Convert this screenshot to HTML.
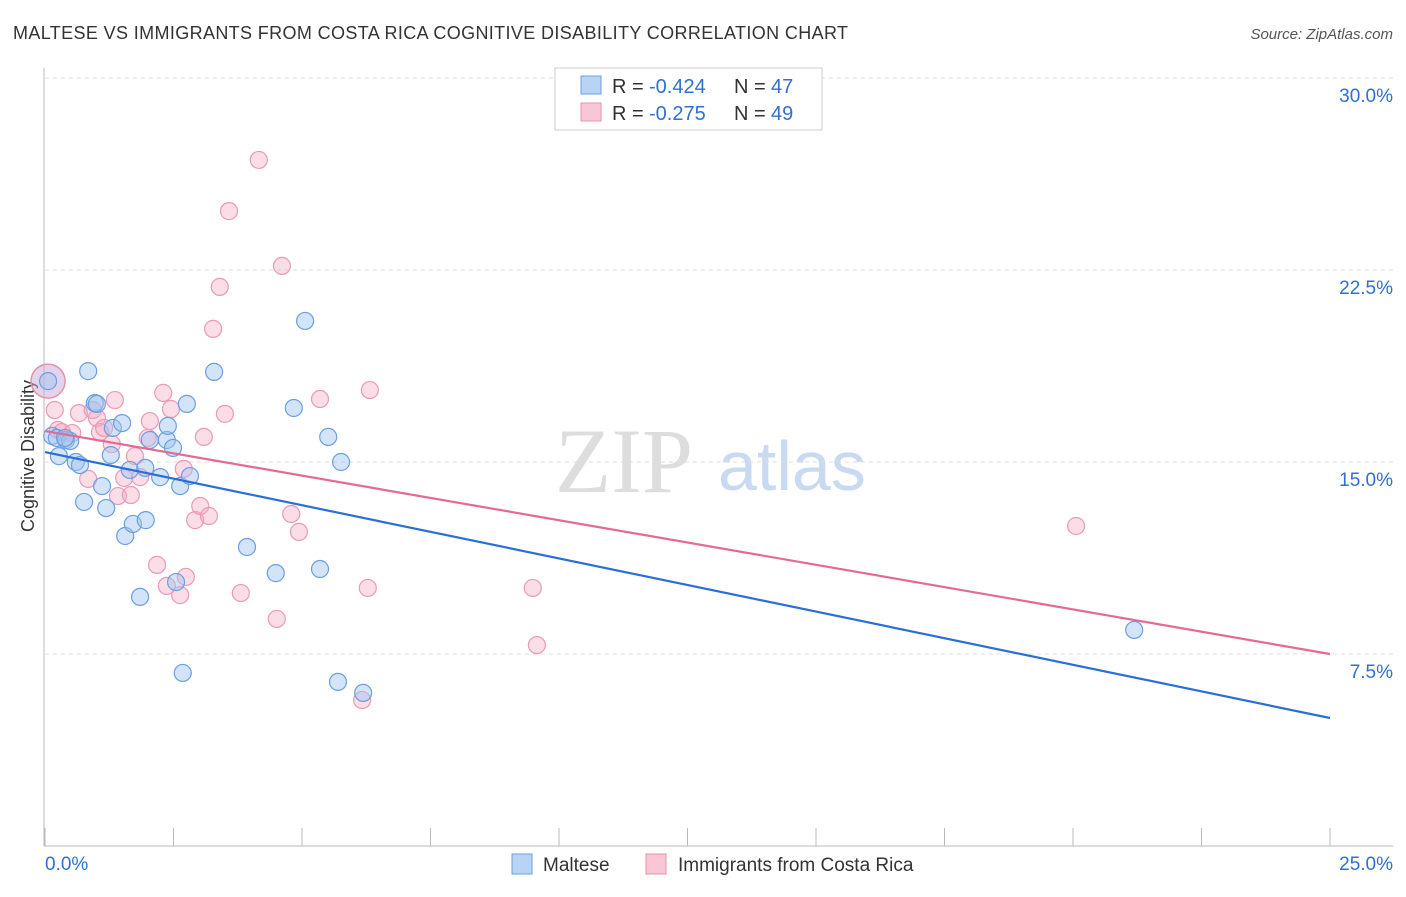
<!DOCTYPE html>
<html><head><meta charset="utf-8"><style>
body{margin:0;background:#fff;font-family:"Liberation Sans",sans-serif}
</style></head><body>
<svg id="c" width="1406" height="892" xmlns="http://www.w3.org/2000/svg">
<text x="13" y="39" font-size="18" fill="#333" textLength="835">MALTESE VS IMMIGRANTS FROM COSTA RICA COGNITIVE DISABILITY CORRELATION CHART</text>
<text x="1393" y="39" font-size="15" fill="#555" text-anchor="end" font-style="italic">Source: ZipAtlas.com</text>
<text x="34" y="456" font-size="18" fill="#333" text-anchor="middle" transform="rotate(-90 34 456)">Cognitive Disability</text>
<text x="555" y="492" font-size="92" fill="#ddd" font-family="Liberation Serif,serif">ZIP</text>
<text x="718" y="490" font-size="70" fill="#c8daf2">atlas</text>
<g id="grid"></g><g id="pts"></g><g id="lines"></g>
<rect x="555" y="68" width="267" height="62" fill="#fff" stroke="#ccc"/>
<rect x="581" y="76" width="20" height="18" fill="#b9d3f5" stroke="#6a9fe0"/>
<rect x="581" y="103" width="20" height="18" fill="#f8c6d4" stroke="#e890aa"/>
<g font-size="20" fill="#333">
<text x="612" y="93">R =</text><text x="649" y="93" fill="#3070d0">-0.424</text><text x="734" y="93">N =</text><text x="771" y="93" fill="#3070d0">47</text></g>
<g font-size="20" fill="#333">
<text x="612" y="120">R =</text><text x="649" y="120" fill="#3070d0">-0.275</text><text x="734" y="120">N =</text><text x="771" y="120" fill="#3070d0">49</text></g>
<rect x="512" y="854" width="20" height="20" fill="#b9d3f5" stroke="#6a9fe0"/>
<text x="543" y="871" font-size="19" fill="#333">Maltese</text>
<rect x="646" y="854" width="20" height="20" fill="#f8c6d4" stroke="#e890aa"/>
<text x="678" y="871" font-size="19" fill="#333">Immigrants from Costa Rica</text>
<text x="45" y="870" font-size="19" fill="#3070d0">0.0%</text>
<text x="1393" y="870" font-size="19" fill="#3070d0" text-anchor="end">25.0%</text>
</svg>
<script>
const yTicks=[30,22.5,15,7.5];
const yTickLabels=["30.0%","22.5%","15.0%","7.5%"];
const blueX=[0.84,0.14,0.23,0.27,0.41,0.49,0.60,0.68,0.76,0.97,1.01,1.11,1.19,1.28,1.32,1.50,1.56,1.65,1.71,1.85,1.95,1.96,2.24,2.37,2.39,2.49,2.55,2.63,2.68,2.76,2.82,3.29,3.93,4.49,4.84,5.06,5.35,5.51,5.70,5.76,6.19,21.19,0.06,0.39,2.04];
const blueY=[18.55,16.02,15.94,15.23,15.86,15.82,15.0,14.88,13.44,17.30,17.27,14.06,13.20,15.27,16.33,16.52,12.11,14.69,12.58,9.73,14.77,12.73,14.41,15.86,16.41,15.55,10.31,14.06,6.76,17.27,14.45,18.52,11.68,10.66,17.11,20.51,10.82,15.98,6.41,15.0,5.98,8.44,18.16,15.94,15.86];
const pinkX=[0.19,0.25,0.33,0.53,0.66,0.84,0.93,1.01,1.07,1.15,1.30,1.36,1.42,1.54,1.67,1.75,1.85,2.00,2.04,2.18,2.30,2.37,2.45,2.63,2.70,2.74,2.92,3.02,3.09,3.19,3.27,3.40,3.50,3.58,3.81,4.16,4.51,4.61,4.79,4.94,5.35,6.17,6.28,6.32,9.49,9.57,20.06];
const pinkY=[17.03,16.25,16.17,16.13,16.91,14.34,17.03,16.72,16.17,16.33,15.70,17.42,13.67,14.38,13.71,15.23,14.41,15.94,16.60,10.98,17.70,10.16,17.07,9.80,14.73,10.51,12.73,13.28,15.98,12.89,20.20,21.84,16.88,24.80,9.88,26.80,8.87,22.66,12.97,12.27,17.46,5.70,10.08,17.81,10.08,7.85,12.50];
const blueTrend=[15.39,5.0];
const pinkTrend=[16.21,7.5];
const X=v=>45+v/25*1285, Y=v=>846-v/7.5*192;
const NS="http://www.w3.org/2000/svg";
const mk=(p,t,a)=>{const e=document.createElementNS(NS,t);for(const k in a)e.setAttribute(k,a[k]);p.appendChild(e);return e;};
const g=document.getElementById('grid');
yTicks.forEach((t,i)=>{
 const l=mk(g,'line',{x1:45,x2:1393,y1:Y(t),y2:Y(t),stroke:'#ddd','stroke-dasharray':'4 4'});
 
 
 const tx=mk(g,'text',{x:1393,y:Y(t)+24,'font-size':19,fill:'#3070d0','text-anchor':'end'});
 tx.textContent=yTickLabels[i];
 
 
});
const ax=mk(g,'line',{x1:44,x2:44,y1:68,y2:846,stroke:'#bbb'});


const bx=mk(g,'line',{x1:44,x2:1393,y1:846,y2:846,stroke:'#bbb'});


for(let i=0;i<=10;i++){const t=mk(g,'line',{x1:X(i*2.5),x2:X(i*2.5),y1:828,y2:846,stroke:'#bbb'});
 
 }
const P=document.getElementById('pts');
const big=mk(P,'circle',{cx:X(0.06),cy:Y(18.16),r:17,fill:'rgba(200,170,215,0.5)',stroke:'#e890aa','stroke-width':1.5});


pinkX.forEach((x,i)=>{const c=mk(P,'circle',{cx:X(x),cy:Y(pinkY[i]),r:8.5,fill:'rgba(244,170,195,0.4)',stroke:'#ea9ab4','stroke-width':1.2});
 
 });
blueX.forEach((x,i)=>{const c=mk(P,'circle',{cx:X(x),cy:Y(blueY[i]),r:8.5,fill:'rgba(160,195,240,0.45)',stroke:'#6a9fe0','stroke-width':1.2});
 
 });
const L=document.getElementById('lines');
const bl=mk(L,'line',{x1:X(0),x2:X(25),y1:Y(blueTrend[0]),y2:Y(blueTrend[1]),stroke:'#2a6fd6','stroke-width':2.2});


const pl=mk(L,'line',{x1:X(0),x2:X(25),y1:Y(pinkTrend[0]),y2:Y(pinkTrend[1]),stroke:'#e46a94','stroke-width':2.2});


</script>
</body></html>
